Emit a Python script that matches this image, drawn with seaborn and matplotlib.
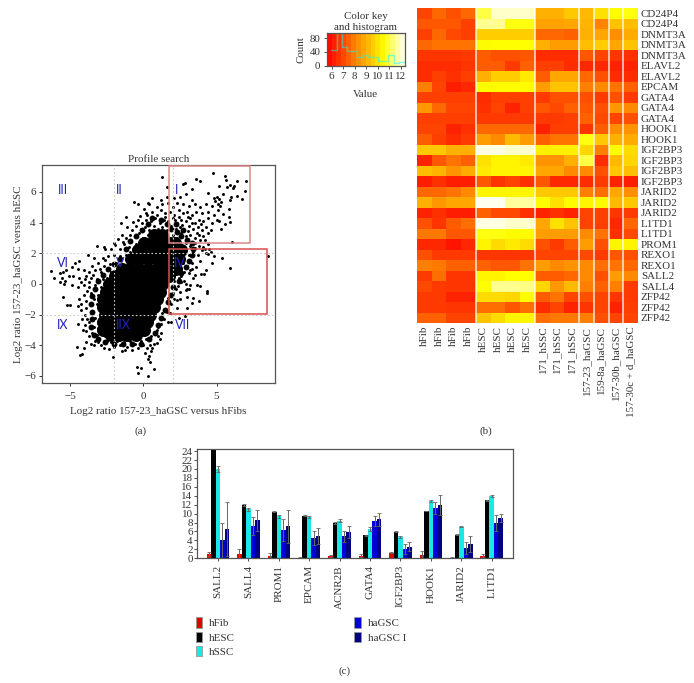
import matplotlib
matplotlib.use("Agg")

import matplotlib.pyplot as plt
import numpy as np
import pandas as pd
import seaborn as sns

from matplotlib.colors import LinearSegmentedColormap
from matplotlib.patches import Patch, Rectangle

# panel (a): solid middle of the cloud, its dense rim, then the loose points
core_pts = [
    (0.75, 3.2), (1.3, 3.2),
    (0.05, 2.7), (0.6, 2.7), (1.2, 2.7), (1.8, 2.7), (2.15, 2.7),
    (-0.35, 2.2), (0.2, 2.2), (0.8, 2.2), (1.4, 2.2), (2.0, 2.2), (2.55, 2.2),
    (-0.85, 1.6), (-0.3, 1.6), (0.3, 1.6), (0.9, 1.6), (1.5, 1.6), (2.0, 1.6), (2.45, 1.6),
    (-1.45, 1.0), (-0.9, 1.0), (-0.3, 1.0), (0.3, 1.0), (0.9, 1.0), (1.5, 1.0), (2.25, 1.0),
    (-1.95, 0.5), (-1.4, 0.5), (-0.8, 0.5), (-0.2, 0.5), (0.4, 0.5), (1.0, 0.5), (1.75, 0.5),
    (-2.35, 0.0), (-1.8, 0.0), (-1.2, 0.0), (-0.6, 0.0), (0.0, 0.0), (0.6, 0.0), (1.25, 0.0),
    (-2.55, -0.5), (-2.0, -0.5), (-1.4, -0.5), (-0.8, -0.5), (-0.2, -0.5), (0.4, -0.5), (1.1, -0.5),
    (-2.75, -1.0), (-2.2, -1.0), (-1.6, -1.0), (-1.0, -1.0), (-0.4, -1.0), (0.2, -1.0), (0.95, -1.0),
    (-2.75, -1.5), (-2.2, -1.5), (-1.6, -1.5), (-1.0, -1.5), (-0.4, -1.5), (0.2, -1.5), (0.7, -1.5),
    (-2.65, -2.0), (-2.1, -2.0), (-1.5, -2.0), (-0.9, -2.0), (-0.3, -2.0), (0.45, -2.0),
    (-2.75, -2.5), (-2.2, -2.5), (-1.6, -2.5), (-1.0, -2.5), (-0.4, -2.5), (0.25, -2.5),
    (-2.75, -3.0), (-2.2, -3.0), (-1.6, -3.0), (-1.0, -3.0), (-0.4, -3.0), (0.05, -3.0),
    (-2.25, -3.35), (-1.7, -3.35), (-1.1, -3.35), (-0.5, -3.35),
]
rim_pts = [
    (1.9, 3.6), (2.3, 3.4), (2.6, 3.1), (3.0, 2.9), (3.3, 2.7), (2.7, 3.5), (2.2, 3.9),
    (1.6, 3.9), (1.2, 4.2), (0.6, 4.3), (0.3, 3.9), (-0.1, 3.5), (-0.5, 3.1), (-0.9, 2.8),
    (-1.2, 2.3), (3.4, 2.3), (3.3, 1.9), (3.1, 1.5), (2.9, 1.1), (2.6, 0.7), (2.4, 0.2),
    (2.0, -0.2), (1.9, -0.7), (1.7, -1.2), (1.5, -1.7), (1.2, -2.2), (1.0, -2.7), (0.8, -3.2),
    (0.4, -3.6), (-1.6, 1.6), (-2.0, 1.3), (-2.4, 1.0), (-2.8, 0.6), (-3.1, 0.2), (-3.3, -0.3),
    (-3.5, -0.8), (-3.6, -1.3), (-3.5, -1.8), (-3.5, -2.3), (-3.6, -2.8), (-3.4, -3.3),
    (-3.1, -3.6), (-2.6, -3.8), (-2.0, -3.9), (-1.4, -3.9), (-0.8, -3.9), (-0.2, -3.9),
]
far_pts = [
    (1.26, 7.0), (4.73, 7.24), (3.61, 6.85), (3.84, 6.74), (5.6, 7.05), (5.66, 6.76),
    (7.03, 6.72), (6.4, 6.7), (5.75, 6.3), (5.9, 6.45), (6.1, 6.25), (6.2, 6.4),
    (5.18, 6.39), (6.92, 6.09), (1.64, 6.3), (3.31, 6.17), (2.86, 6.6), (2.7, 6.5),
    (4.45, 5.93), (6.0, 5.67), (6.4, 5.72), (6.74, 5.56), (5.46, 5.89), (5.0, 5.7),
    (5.2, 5.55), (4.85, 5.6), (5.3, 5.35), (5.1, 5.2), (4.9, 5.4), (5.25, 5.1),
    (5.82, 4.91), (5.9, 5.5), (5.44, 4.59), (5.82, 4.37), (5.94, 4.04), (5.6, 3.9),
    (5.3, 3.57), (5.14, 4.09), (6.05, 2.74), (8.49, 1.83), (5.94, 1.06), (5.37, 1.71),
    (4.68, 1.39), (4.8, 1.83), (4.5, 2.25), (4.2, 2.3), (4.4, 1.95),
    (4.29, 0.93), (4.16, 0.67), (3.95, 0.65), (3.88, -0.11), (3.65, -0.05), (4.34, -0.46),
    (4.34, -0.6), (3.77, -1.11), (3.38, -0.89), (3.31, -1.24), (2.97, -1.59), (2.86, -2.07),
    (2.4, -2.2), (3.01, -0.83), (2.5, -0.98), (2.3, -1.05), (2.9, -0.4), (3.0, -0.3),
    (3.15, -0.35), (2.9, 0.0), (3.2, -0.1), (3.1, 0.7), (3.3, 0.95), (3.5, 0.6), (3.4, 0.4),
    (-0.68, 5.37), (-0.4, 5.2), (0.23, 4.5), (0.3, 5.3), (-1.18, 4.4), (-1.53, 3.98),
]
upper_pts = [
    (0.6, 5.6), (1.2, 5.5), (1.6, 5.7), (2.1, 5.6), (2.5, 5.7), (2.9, 5.9), (3.3, 5.5),
    (0.4, 5.2), (0.9, 5.0), (1.3, 5.2), (1.7, 5.3), (2.0, 5.0), (2.3, 5.3), (2.7, 5.2),
    (3.1, 5.1), (3.5, 5.2), (3.9, 5.0), (4.3, 5.2), (4.7, 5.1),
    (0.2, 4.6), (0.6, 4.7), (0.9, 4.5), (1.2, 4.8), (1.5, 4.6), (1.8, 4.7), (2.1, 4.5),
    (2.4, 4.8), (2.7, 4.6), (3.0, 4.7), (3.3, 4.5), (3.6, 4.7), (4.0, 4.6), (4.4, 4.7),
    (4.8, 4.5), (5.1, 4.8),
    (-0.4, 4.2), (-0.1, 4.0), (0.2, 4.2), (0.5, 4.1), (0.8, 4.3), (1.1, 4.0), (1.4, 4.2),
    (1.7, 4.1), (2.0, 4.3), (2.3, 4.0), (2.6, 4.2), (2.9, 4.1), (3.2, 4.3), (3.5, 4.0),
    (3.8, 4.2), (4.1, 4.1), (4.4, 4.3), (4.7, 4.0), (5.0, 4.2),
    (-1.1, 3.7), (-0.8, 3.5), (-0.5, 3.8), (-0.2, 3.6), (0.1, 3.7), (0.4, 3.5), (0.7, 3.8),
    (1.0, 3.6), (1.3, 3.7), (1.6, 3.5), (1.9, 3.8), (2.2, 3.6), (2.5, 3.7), (2.8, 3.5),
    (3.1, 3.8), (3.4, 3.6), (3.7, 3.7), (4.0, 3.5), (4.3, 3.7), (4.6, 3.5),
    (-1.5, 3.2), (-1.2, 3.0), (-0.9, 3.2), (-0.6, 3.1), (-0.3, 3.3), (0.0, 3.0), (0.3, 3.2),
    (0.6, 3.1), (0.9, 3.3), (1.2, 3.1), (1.6, 3.2), (2.0, 3.2), (2.3, 3.0), (2.6, 3.3),
    (2.9, 3.1), (3.2, 3.2), (3.5, 3.0), (3.8, 3.2), (4.1, 3.1), (4.4, 3.3),
    (-0.5, 2.6), (-0.2, 2.8), (0.1, 2.6), (0.4, 2.8), (2.3, 2.7), (2.6, 2.5), (2.9, 2.7),
    (3.2, 2.5), (3.5, 2.7), (3.8, 2.5), (4.1, 2.4), (4.4, 2.6),
    (2.8, 2.1), (3.1, 1.9), (3.4, 2.1), (3.7, 1.9), (4.0, 2.2), (4.3, 2.0), (4.6, 2.1),
    (2.7, 1.4), (3.0, 1.2), (3.3, 1.4), (3.6, 1.1), (3.9, 1.5), (3.2, 0.9), (2.8, 0.8),
    (1.5, 4.35), (2.45, 4.4), (3.05, 4.35), (2.15, 4.15), (3.35, 3.95), (3.95, 3.9),
    (2.65, 3.85), (3.65, 3.35), (3.05, 3.45), (4.2, 2.85), (3.85, 2.85), (3.55, 2.35),
    (-0.95, 2.1), (-1.4, 2.75), (-1.75, 2.95), (-0.25, 4.45), (0.05, 4.9), (-0.7, 4.05),
]
left_pts = [
    (-3.2, 2.45), (-2.7, 2.4), (-2.65, 2.3), (-2.0, 2.7), (-1.95, 2.55), (-2.2, 2.3),
    (-1.6, 2.3), (-1.3, 2.6), (-1.0, 2.4), (-0.7, 2.3), (-1.2, 1.9), (-1.6, 1.8),
    (-2.0, 1.9), (-2.4, 1.8), (-2.8, 1.7), (-1.9, 1.4), (-2.3, 1.3), (-2.7, 1.2),
    (-3.1, 1.4), (-3.5, 1.2), (-3.8, 1.9), (-3.4, 1.7), (-4.4, 1.5), (-4.7, 1.4),
    (-4.9, 1.1), (-4.5, 1.0), (-4.1, 0.9), (-3.7, 0.8), (-3.3, 0.9), (-2.9, 0.8),
    (-2.5, 0.9), (-2.2, 0.8), (-6.3, 0.87), (-6.1, 0.37), (-5.7, 0.7), (-5.5, 0.8),
    (-5.3, 0.9), (-5.6, 0.4), (-5.4, 0.2), (-5.1, 0.55), (-4.8, 0.5), (-4.4, 0.4),
    (-4.0, 0.3), (-3.6, 0.4), (-3.2, 0.3), (-2.8, 0.3), (-2.5, 0.4),
    (-5.7, 0.1), (-5.45, 0.0), (-4.9, -0.1), (-4.5, -0.2), (-4.1, -0.1), (-3.7, -0.2),
    (-3.3, -0.1), (-2.9, -0.2), (-2.6, -0.1), (-5.5, -0.85), (-5.2, -1.37), (-5.0, -1.35),
    (-4.5, -1.45), (-4.4, -1.0), (-4.1, -0.7), (-3.9, -1.1), (-3.6, -0.6), (-3.4, -1.0),
    (-3.1, -0.7), (-2.9, -0.9), (-3.6, -1.4), (-3.2, -1.3), (-3.0, -1.6), (-4.3, -1.7),
    (-4.0, -2.0), (-3.6, -1.9), (-3.3, -2.2), (-3.0, -2.4), (-4.2, -2.3), (-4.5, -2.6),
    (-4.0, -2.7), (-3.7, -2.5), (-3.4, -2.8), (-3.1, -2.9), (-3.9, -3.1), (-3.5, -3.2),
    (-3.2, -3.3), (-2.9, -3.2), (-2.6, -3.4), (-2.3, -3.3),
    (-3.9, 0.55), (-3.45, 0.6), (-3.75, 0.1), (-4.25, 0.15), (-3.85, -0.45), (-4.25, -1.3),
    (-3.95, -1.55), (-3.85, -2.3), (-4.15, -3.0), (-3.75, -3.4), (-3.0, 1.0), (-2.6, 1.55),
]
lower_pts = [
    (-4.56, -4.1), (-4.2, -4.6), (-4.35, -4.65), (-4.1, -4.2), (-3.9, -3.8), (-3.6, -3.9),
    (-3.4, -4.0), (-3.1, -3.8), (-2.9, -4.0), (-2.7, -4.2), (-2.5, -3.7), (-2.2, -3.8),
    (-2.07, -4.74), (-2.0, -4.1), (-1.8, -3.7), (-1.6, -4.0), (-1.5, -4.4), (-1.3, -3.8),
    (-1.1, -4.1), (-0.9, -3.7), (-0.8, -4.3), (-0.6, -3.9), (-0.4, -4.2), (-0.2, -3.7),
    (0.0, -4.0), (0.1, -4.5), (0.2, -3.6), (0.3, -4.9), (0.35, -4.7), (0.45, -5.1),
    (0.5, -4.4), (0.55, -3.4), (0.7, -3.9), (0.8, -3.2), (-0.45, -5.43), (-0.16, -5.5),
    (-0.37, -5.8), (0.3, -6.0), (0.69, -5.55), (1.0, -3.4), (1.19, -3.2), (1.12, -3.6),
    (0.6, -4.2), (1.9, -2.5), (1.65, -2.5), (1.4, -2.3), (1.3, -1.9), (1.6, -1.8),
    (1.9, -1.3), (1.7, -0.9), (2.0, -0.6), (2.3, -1.55), (2.2, -0.3), (2.1, 0.2),
    (2.4, 0.4), (2.2, 0.9), (2.6, 0.5), (1.0, -2.8), (0.9, -3.0), (1.2, -2.6),
    (-3.3, -3.75), (-2.35, -4.25), (-1.25, -4.3), (0.25, -4.2), (0.45, -3.95), (0.95, -3.85),
    (2.1, -1.0), (1.85, -1.9), (2.55, 0.15), (2.35, -0.15), (2.75, 0.2), (2.5, -0.5),
]
region_labels = ["III", "II", "I", "VI", "V", "IV", "IX", "IIX", "VII"]
region_x = [-5.5, -1.65, 2.28, -5.5, -1.6, 2.5, -5.5, -1.4, 2.65]
region_y = [6.1, 6.1, 6.1, 1.4, 1.4, 1.4, -2.65, -2.65, -2.65]

# panel (b)
heat_genes = [
    "CD24P4", "CD24P4", "DNMT3A", "DNMT3A", "DNMT3A", "ELAVL2", "ELAVL2", "EPCAM",
    "GATA4", "GATA4", "GATA4", "HOOK1", "HOOK1", "IGF2BP3", "IGF2BP3", "IGF2BP3",
    "IGF2BP3", "JARID2", "JARID2", "JARID2", "L1TD1", "L1TD1", "PROM1", "REXO1",
    "REXO1", "SALL2", "SALL4", "ZFP42", "ZFP42", "ZFP42",
]
heat_samples = [
    "hFib", "hFib", "hFib", "hFib", "hESC", "hESC", "hESC", "hESC",
    "171_hSSC", "171_hSSC", "171_hSSC", "157-23_haGSC", "159-8a_haGSC",
    "157-30b_haGSC", "157-30c + d_haGSC",
]
heat_values = [
    [7.0, 7.6, 7.2, 7.6, 11.0, 12.0, 12.0, 12.0, 9.0, 9.0, 9.5, 9.2, 10.0, 10.6, 10.7],
    [7.3, 7.3, 7.3, 6.9, 11.5, 11.5, 10.7, 10.7, 8.7, 8.7, 8.8, 9.1, 8.1, 9.4, 9.3],
    [6.9, 7.6, 7.1, 6.9, 9.6, 9.6, 9.6, 9.6, 7.6, 7.6, 7.5, 9.0, 8.8, 8.3, 8.9],
    [7.6, 7.8, 7.8, 7.8, 10.5, 10.6, 10.6, 10.6, 9.0, 8.6, 8.6, 9.3, 9.6, 8.8, 9.4],
    [6.7, 6.7, 6.7, 6.8, 7.4, 7.2, 7.2, 7.3, 6.5, 6.5, 6.5, 7.3, 7.0, 6.7, 6.6],
    [6.5, 6.5, 6.5, 6.7, 7.4, 7.4, 6.8, 7.5, 6.9, 6.9, 6.5, 6.4, 6.4, 6.3, 6.3],
    [6.5, 6.9, 6.6, 6.9, 9.0, 9.6, 9.6, 10.2, 7.4, 8.8, 8.8, 7.6, 7.2, 6.5, 6.5],
    [8.0, 7.0, 6.2, 6.4, 10.5, 10.5, 10.5, 10.5, 8.6, 9.4, 9.4, 8.0, 8.2, 7.8, 7.5],
    [6.9, 6.9, 6.9, 6.9, 6.5, 6.9, 6.9, 6.9, 6.8, 7.2, 7.2, 7.2, 6.8, 7.2, 6.8],
    [8.5, 7.6, 7.0, 7.0, 6.6, 7.0, 6.3, 6.9, 7.3, 7.1, 7.5, 7.3, 7.2, 8.5, 8.2],
    [6.9, 6.9, 6.9, 6.9, 6.8, 6.8, 6.8, 6.8, 6.8, 6.8, 6.9, 7.5, 7.1, 7.0, 7.2],
    [7.0, 7.0, 6.3, 6.6, 7.6, 7.6, 7.6, 7.6, 6.3, 6.9, 6.9, 6.7, 7.4, 8.3, 8.4],
    [7.4, 6.9, 6.5, 6.8, 8.6, 8.2, 9.2, 8.6, 7.5, 7.8, 7.8, 10.7, 9.5, 9.0, 8.9],
    [9.5, 9.5, 9.0, 9.0, 12.2, 12.2, 12.0, 12.0, 10.3, 10.3, 10.3, 9.8, 8.0, 10.6, 9.9],
    [6.3, 7.3, 7.8, 7.5, 10.0, 10.4, 10.4, 10.2, 8.4, 8.4, 9.0, 11.0, 6.5, 9.2, 9.8],
    [9.3, 9.1, 8.4, 8.9, 10.2, 10.4, 10.4, 10.4, 8.8, 8.8, 8.2, 8.2, 7.2, 9.5, 9.3],
    [6.2, 6.6, 6.2, 6.2, 7.3, 6.7, 7.0, 6.6, 7.3, 6.4, 6.4, 6.5, 6.8, 6.3, 6.2],
    [7.6, 7.6, 7.8, 8.2, 10.4, 10.4, 10.4, 10.4, 9.5, 9.5, 9.5, 8.0, 7.7, 8.8, 8.3],
    [9.0, 8.5, 8.8, 8.8, 12.3, 12.3, 11.6, 11.6, 10.5, 10.0, 10.5, 10.4, 10.5, 9.2, 9.5],
    [6.3, 6.6, 6.2, 6.2, 7.5, 7.1, 7.1, 6.6, 6.3, 6.6, 6.3, 7.0, 6.9, 6.7, 6.8],
    [7.2, 6.7, 7.4, 7.7, 12.2, 12.2, 12.0, 12.0, 8.8, 10.0, 9.4, 7.0, 6.9, 6.4, 7.6],
    [7.9, 7.9, 7.3, 7.3, 10.7, 10.7, 10.5, 10.5, 8.6, 8.6, 8.6, 8.2, 7.8, 6.6, 7.1],
    [6.4, 6.4, 6.0, 6.4, 10.4, 9.9, 10.2, 9.9, 7.2, 6.8, 7.4, 8.6, 7.2, 10.4, 10.4],
    [7.2, 6.8, 6.8, 6.8, 6.7, 6.7, 6.7, 6.7, 7.0, 7.0, 7.0, 7.1, 6.8, 7.3, 7.2],
    [8.0, 7.9, 7.5, 7.5, 7.5, 7.3, 7.3, 7.8, 8.6, 8.2, 8.4, 8.2, 7.7, 7.8, 7.6],
    [6.8, 7.7, 6.7, 6.7, 10.4, 10.4, 10.6, 10.6, 7.4, 7.4, 7.6, 8.2, 7.2, 8.6, 8.2],
    [7.1, 6.8, 6.7, 6.7, 10.6, 11.5, 11.5, 11.4, 9.8, 8.5, 9.2, 8.0, 7.5, 8.0, 6.8],
    [6.8, 6.8, 6.3, 6.3, 9.9, 9.9, 9.8, 10.5, 7.4, 7.8, 7.0, 7.2, 7.0, 6.7, 6.8],
    [6.8, 6.8, 6.7, 6.7, 7.7, 7.7, 7.3, 7.7, 6.5, 7.0, 6.3, 6.7, 7.0, 6.3, 6.9],
    [7.5, 7.5, 7.0, 7.0, 9.4, 9.9, 10.4, 10.4, 7.7, 7.9, 7.9, 8.0, 7.2, 7.0, 7.0],
]
hist_edges = [5.97, 6.43, 6.93, 7.36, 8.17, 8.75, 9.19, 10.06, 10.93, 11.42, 11.88, 12.35]
hist_counts = [45, 96, 55, 42, 25, 30, 25, 15, 32, 8, 12]

# panel (c)
bar_genes = ["SALL2", "SALL4", "PROM1", "EPCAM", "ACNR2B", "GATA4", "IGF2BP3", "HOOK1", "JARID2", "L1TD1"]
bar_lines = ["hFib", "hESC", "hSSC", "haGSC", "haGSC I"]
hfib_vals = [1.0, 1.0, 0.6, 0.1, 0.5, 0.6, 1.2, 0.8, 0.1, 0.6]
hesc_vals = [26.0, 12.0, 10.4, 9.5, 7.9, 5.2, 5.9, 10.6, 5.3, 13.0]
hssc_vals = [20.0, 11.0, 9.4, 9.3, 8.4, 6.5, 4.8, 12.8, 7.1, 14.0]
hagsc_vals = [4.0, 7.2, 6.4, 4.5, 4.9, 8.3, 2.1, 11.2, 2.3, 7.9]
hagsc1_vals = [6.6, 8.5, 7.2, 5.0, 5.9, 8.7, 2.6, 12.0, 3.2, 9.0]
hfib_err = [0.5, 1.0, 0.5, 0.1, 0.2, 0.4, 0.1, 0.9, 0.1, 0.4]
hesc_err = [0.1, 0.2, 0.1, 0.1, 0.2, 0.1, 0.1, 0.1, 0.1, 0.1]
hssc_err = [0.7, 0.3, 0.4, 0.2, 0.3, 0.5, 0.3, 0.3, 0.1, 0.2]
hagsc_err = [4.0, 2.0, 2.5, 1.6, 1.2, 1.1, 1.2, 1.3, 1.3, 1.8]
hagsc1_err = [6.0, 2.4, 3.7, 1.8, 1.3, 1.5, 1.0, 2.2, 1.8, 0.9]
bar_colors = ["#e00000", "#000000", "#18e8e8", "#0000d8", "#000080"]

W, H = 694, 683
INK = "#333333"
SPINE = "#555555"
FS = 7.9

sns.set_theme(style="white")
plt.rcParams["font.family"] = ["Liberation Serif", "DejaVu Serif"]
plt.rcParams["font.size"] = FS
plt.rcParams["text.color"] = INK
plt.rcParams["axes.labelcolor"] = INK
plt.rcParams["xtick.color"] = INK
plt.rcParams["ytick.color"] = INK
plt.rcParams["axes.edgecolor"] = SPINE
plt.rcParams["axes.linewidth"] = 0.9


def pixel_axes(fig, left, top, right, bottom):
    return fig.add_axes([left / W, 1 - bottom / H, (right - left) / W, (bottom - top) / H])


heat_cmap = LinearSegmentedColormap.from_list(
    "heat_key",
    [
        (0.0, "#ff0000"),
        ((7.0 - 5.57) / 6.78, "#ff4400"),
        ((8.0 - 5.57) / 6.78, "#ff8000"),
        ((9.0 - 5.57) / 6.78, "#ffb000"),
        ((10.0 - 5.57) / 6.78, "#ffe000"),
        ((10.6 - 5.57) / 6.78, "#ffff00"),
        ((11.5 - 5.57) / 6.78, "#ffff90"),
        (1.0, "#fffff0"),
    ],
)

fig = plt.figure(figsize=(W / 100, H / 100), dpi=100)

# (a) scatter
ax = pixel_axes(fig, 42, 165, 275, 383)
core = pd.DataFrame(core_pts, columns=["x", "y"])
rim = pd.DataFrame(rim_pts, columns=["x", "y"])
loose = pd.DataFrame(far_pts + upper_pts + left_pts + lower_pts, columns=["x", "y"])
sns.scatterplot(data=core, x="x", y="y", color="black", s=88, linewidth=0, ax=ax)
sns.scatterplot(data=rim, x="x", y="y", color="black", s=18, linewidth=0, ax=ax)
sns.scatterplot(data=loose, x="x", y="y", color="black", s=4.5, linewidth=0, ax=ax)
ax.set_xlim(-6.94, 9.0)
ax.set_ylim(-6.46, 7.76)
ax.set_xticks([-5, 0, 5])
ax.set_yticks([-6, -4, -2, 0, 2, 4, 6])
ax.tick_params(length=2.5, width=0.7, labelsize=FS, bottom=True, left=True)
ax.tick_params(axis="x", pad=4)
ax.tick_params(axis="y", pad=2)
for v in [-2, 2]:
    ax.axvline(v, color="#cccccc", lw=0.8, ls=(0, (1.5, 2)), zorder=3)
    ax.axhline(v, color="#cccccc", lw=0.8, ls=(0, (1.5, 2)), zorder=3)
ax.add_patch(Rectangle((1.78, 2.65), 5.52, 5.05, fill=False, ec="#e08888", lw=1.1, zorder=4))
ax.add_patch(Rectangle((1.78, -1.94), 6.67, 4.24, fill=False, ec="#d85050", lw=1.1, zorder=4))
for label, x, y in zip(region_labels, region_x, region_y):
    ax.text(x, y, label, color="#2222bb", fontsize=9, family="Lato", ha="center", va="center", zorder=5)
ax.set_title("Profile search", fontsize=FS, pad=2.5)
ax.set_xlabel("Log2 ratio 157-23_haGSC versus hFibs", fontsize=FS, labelpad=4)
ax.set_ylabel("Log2 ratio 157-23_haGSC versus hESC", fontsize=FS, labelpad=1)

# (b) colour key and histogram
ax = pixel_axes(fig, 326.7, 32.7, 404.7, 65.7)
key_edges = np.linspace(5.57, 12.35, 17)
key_mids = (key_edges[:-1] + key_edges[1:]) / 2
ax.pcolormesh(key_edges, [0, 96], key_mids[None, :], cmap=heat_cmap, vmin=5.57, vmax=12.35)
sns.histplot(
    x=hist_edges[:-1],
    weights=hist_counts,
    bins=hist_edges,
    element="step",
    fill=False,
    color="cyan",
    alpha=0.5,
    linewidth=1,
    ax=ax,
)
ax.set_xlim(5.57, 12.35)
ax.set_ylim(0, 96)
ax.set_xticks([6, 7, 8, 9, 10, 11, 12])
ax.set_yticks([0, 40, 80])
ax.tick_params(length=2, width=0.6, pad=2.5, labelsize=FS, bottom=True, left=True)
ax.set_xlabel("Value", fontsize=FS, labelpad=6.5)
ax.set_ylabel("Count", fontsize=FS, labelpad=3)
ax.set_title("Color key\nand histogram", fontsize=FS, pad=2, linespacing=1.3)

# (b) heatmap
ax = pixel_axes(fig, 417, 8, 638, 323)
heat_df = pd.DataFrame(heat_values, index=range(len(heat_genes)), columns=range(len(heat_samples)))
sns.heatmap(heat_df, cmap=heat_cmap, vmin=5.57, vmax=12.35, cbar=False, ax=ax, xticklabels=heat_samples, yticklabels=heat_genes)
for v in [4, 8, 11, 12, 13, 14]:
    ax.axvline(v, color="white", lw=1.1, alpha=0.85)
ax.yaxis.tick_right()
ax.tick_params(length=0, pad=2, labelsize=FS)
ax.set_yticklabels(heat_genes, rotation=0, fontsize=FS)
ax.set_xticklabels(heat_samples, rotation=90, fontsize=FS)
ax.set_xlabel("")
ax.set_ylabel("")

# (c) bars
ax = pixel_axes(fig, 196.7, 449.3, 513, 558.3)
series = [hfib_vals, hesc_vals, hssc_vals, hagsc_vals, hagsc1_vals]
errors = [hfib_err, hesc_err, hssc_err, hagsc_err, hagsc1_err]
rows = []
for line, vals in zip(bar_lines, series):
    for gene, val in zip(bar_genes, vals):
        rows.append({"gene": gene, "line": line, "value": val})
bar_df = pd.DataFrame(rows)
sns.barplot(
    data=bar_df,
    x="gene",
    y="value",
    hue="line",
    palette=bar_colors,
    saturation=1,
    width=0.74,
    linewidth=0,
    errorbar=None,
    legend=False,
    ax=ax,
)
for container, err in zip(ax.containers, errors):
    centres = [p.get_x() + p.get_width() / 2 for p in container]
    heights = [p.get_height() for p in container]
    ax.errorbar(centres, heights, yerr=err, fmt="none", ecolor="#666666", elinewidth=0.7, capsize=1.5, capthick=0.6)
ax.set_xlim(-0.70, 9.70)
ax.set_ylim(0, 24.4)
ax.set_yticks(range(0, 25, 2))
ax.tick_params(length=2, width=0.6, pad=1.5, labelsize=FS, bottom=True, left=True)
ax.tick_params(axis="x", rotation=90, pad=3)
ax.tick_params(axis="y", pad=1)
ax.set_xlabel("")
ax.set_ylabel("")
handles = [Patch(facecolor=c, edgecolor="#999999", linewidth=0.6, label=n) for c, n in zip(bar_colors, bar_lines)]
fig.legend(
    handles=handles,
    ncols=2,
    frameon=False,
    loc="upper left",
    bbox_to_anchor=(187 / W, 1 - 608.5 / H),
    fontsize=FS,
    handlelength=0.6,
    handleheight=1.1,
    handletextpad=0.6,
    labelspacing=0.3,
    columnspacing=10.9,
    borderpad=0.3,
)

# panel letters
for label, x, y in [("(a)", 141, 431), ("(b)", 486, 431), ("(c)", 345, 671)]:
    fig.text(x / W, 1 - y / H, label, ha="center", va="center", fontsize=FS)

fig.savefig("out.png", dpi=100)
